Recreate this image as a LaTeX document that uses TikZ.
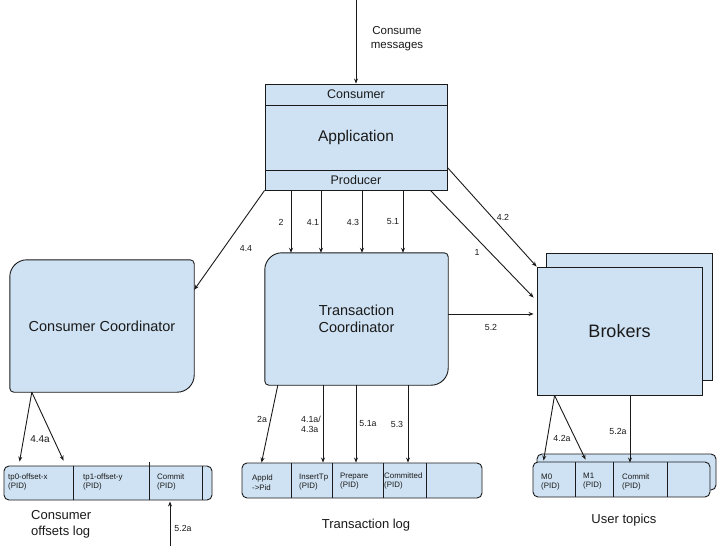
\documentclass[tikz,border=0pt]{standalone}
\usepackage{fontspec}
\setmainfont{Liberation Sans}
\usetikzlibrary{arrows.meta,backgrounds,calc}
\definecolor{boxblue}{HTML}{CFE2F3}
\definecolor{ink}{HTML}{1A1A1A}
\tikzset{
  line/.style={draw=ink,line width=0.9pt},
  conn/.style={line,-{Stealth[length=5pt,width=4pt]}},
  bluebox/.style={line,fill=boxblue},
  holder/.style={draw=none,inner sep=0pt,align=center,text=ink},
  band/.style={bluebox,rectangle,inner sep=0pt,text=ink,font=\fontsize{12.5}{14}\selectfont},
  lbl/.style={inner sep=0pt,text=ink,font=\fontsize{8.8}{10.5}\selectfont,align=left},
  cell/.style={inner sep=0pt,anchor=west,text=ink,font=\fontsize{7.9}{9.8}\selectfont,align=left},
  caption/.style={inner sep=0pt,text=ink,font=\fontsize{13}{16}\selectfont,align=left},
}
% box with big rounded NW/SE corners and small NE/SW corners
\newcommand\mixbox[3]{%
  \path[bluebox]
    ([yshift=-#2]#1.north west)
    .. controls ([yshift=-0.45*#2]#1.north west) and ([xshift=0.45*#2]#1.north west) .. ([xshift=#2]#1.north west)
    -- ([xshift=-#3]#1.north east)
    .. controls ([xshift=-0.45*#3]#1.north east) and ([yshift=-0.45*#3]#1.north east) .. ([yshift=-#3]#1.north east)
    -- ([yshift=#2]#1.south east)
    .. controls ([yshift=0.45*#2]#1.south east) and ([xshift=-0.45*#2]#1.south east) .. ([xshift=-#2]#1.south east)
    -- ([xshift=#3]#1.south west)
    .. controls ([xshift=0.45*#3]#1.south west) and ([yshift=0.45*#3]#1.south west) .. ([yshift=#3]#1.south west)
    -- cycle;}
\begin{document}
\begin{tikzpicture}[x=1pt,y=-1pt]
\useasboundingbox (0,0) rectangle (720,546);

% ---------- Application ----------
\node[band,minimum width=182pt,minimum height=21pt] (appcons) at (356,94.5) {Consumer};
\node[band,minimum width=182pt,minimum height=65pt,font=\fontsize{15.5}{18}\selectfont] (appmain) at (356,137.5) {Application};
\node[band,minimum width=182pt,minimum height=20pt] (appprod) at (356,180) {Producer};
\coordinate (cmsrc) at (356,0);
\draw[conn] (cmsrc) -- (appcons.north);
\node[holder,font=\fontsize{11.5}{13.5}\selectfont] (cmlbl) at (397,38.5) {Consume\\messages};

% ---------- Coordinators ----------
\node[holder,minimum width=183pt,minimum height=132pt,font=\fontsize{14.5}{17}\selectfont] (tc) at (356.5,319) {Transaction\\Coordinator};
\node[holder,minimum width=184pt,minimum height=132pt,font=\fontsize{14.5}{17}\selectfont] (cc) at (102,326) {Consumer Coordinator};
\begin{scope}[on background layer]
\fill[white] (0,0) rectangle (720,546);
\mixbox{tc}{17pt}{4pt}
\mixbox{cc}{17pt}{4pt}
\end{scope}

% ---------- Brokers ----------
\node[bluebox,rectangle,minimum width=166pt,minimum height=127pt,inner sep=0pt] (brkback) at (629,316.5) {};
\node[bluebox,rectangle,minimum width=165pt,minimum height=128pt,inner sep=0pt,text=ink,font=\fontsize{18}{21}\selectfont] (brk) at (619.5,331) {Brokers};

% ---------- Producer -> TC ----------
\draw[conn] ([xshift=-65pt]appprod.south) -- ([xshift=-65.5pt]tc.north);
\draw[conn] ([xshift=-35pt]appprod.south) -- ([xshift=-35.5pt]tc.north);
\draw[conn] ([xshift=6pt]appprod.south) -- ([xshift=5.5pt]tc.north);
\draw[conn] ([xshift=47pt]appprod.south) -- ([xshift=46.5pt]tc.north);
\node[lbl] (l2) at (281,222) {2};
\node[lbl] (l41) at (313,222) {4.1};
\node[lbl] (l43) at (353,222) {4.3};
\node[lbl] (l51) at (393,222) {5.1};

% 4.4 to consumer coordinator
\draw[conn] (appprod.south west) -- ([yshift=-30pt]cc.north east);
\node[lbl] (l44) at (246,248) {4.4};
% 4.2 and 1 to brokers
\draw[conn] ([yshift=2pt]appprod.north east) -- (brk.north west);
\node[lbl] (l42) at (503,217) {4.2};
\draw[conn] ([xshift=-17pt]appprod.south east) -- ([xshift=-3pt,yshift=-31pt]brk.north west);
\node[lbl] (l1) at (477,252) {1};
% 5.2 TC -> brokers
\draw[conn] (tc.east |- 0,314) -- ([xshift=-3pt]brk.west |- 0,314);
\node[lbl] (l52) at (491,327) {5.2};

% ---------- Consumer offsets log ----------
\node[bluebox,rectangle,rounded corners=5pt,minimum width=208pt,minimum height=34pt,inner sep=0pt] (olog) at (108,483) {};
\draw[line] (73,466) -- (73,500);
\draw[line] (149,462) -- (149,500);
\draw[line] (202,466) -- (202,500);
\node[cell] (o1) at (8,482) {tp0-offset-x\\(PID)};
\node[cell] (o2) at (83,482) {tp1-offset-y\\(PID)};
\node[cell] (o3) at (157,482) {Commit\\(PID)};
\draw[conn] ([xshift=22pt]cc.south west) -- ([xshift=16pt,yshift=4pt]olog.north west);
\draw[conn] ([xshift=22pt]cc.south west) -- ([xshift=60pt,yshift=5pt]olog.north west);
\node[lbl,font=\fontsize{10}{12}\selectfont] (l44a) at (40,439) {4.4a};
\coordinate (src52a) at (170,546);
\draw[conn] (src52a) -- (170,501.5);
\node[lbl] (l52a) at (183,528) {5.2a};
\node[caption,anchor=west] (ocap) at (31,524) {Consumer\\offsets log};

% ---------- Transaction log ----------
\node[bluebox,rectangle,rounded corners=5pt,minimum width=240pt,minimum height=35pt,inner sep=0pt] (tlog) at (362,480.5) {};
\foreach \xx in {291,332,383,426} \draw[line] (\xx,463) -- (\xx,498);
\node[cell] (t1) at (252,482.5) {AppId\\->Pid};
\node[cell] (t2) at (299,482) {InsertTp\\(PID)};
\node[cell] (t3) at (340,481) {Prepare\\(PID)};
\node[cell] (t4) at (384,481) {Committed\\(PID)};
\draw[conn] ([xshift=13pt]tc.south west) -- ([xshift=20pt]tlog.north west);
\draw[conn] ([xshift=-33.5pt]tc.south) -- ([xshift=-39pt]tlog.north);
\draw[conn] ([xshift=-0.5pt]tc.south) -- ([xshift=-6pt]tlog.north);
\draw[conn] ([xshift=51.5pt]tc.south) -- ([xshift=46pt]tlog.north);
\node[lbl] (l2a) at (262,419) {2a};
\node[lbl] (l41a) at (311,424.5) {4.1a/\\4.3a};
\node[lbl] (l51a) at (368,424) {5.1a};
\node[lbl] (l53) at (397,424) {5.3};
\node[caption] (tcap) at (366,525) {Transaction log};

% ---------- User topics ----------
\node[bluebox,rectangle,rounded corners=5pt,minimum width=179pt,minimum height=36pt,inner sep=0pt] (uback) at (626.5,472) {};
\node[bluebox,rectangle,rounded corners=5pt,minimum width=177pt,minimum height=35pt,inner sep=0pt] (ulog) at (621.5,479.5) {};
\foreach \xx in {575,613,667} \draw[line] (\xx,462) -- (\xx,497);
\node[cell] (u1) at (541,482) {M0\\(PID)};
\node[cell] (u2) at (583,481) {M1\\(PID)};
\node[cell] (u3) at (622,482) {Commit\\(PID)};
\draw[conn] ([xshift=18pt]brk.south west) -- ([xshift=11pt,yshift=1pt]ulog.north west);
\draw[conn] ([xshift=18pt]brk.south west) -- ([xshift=53pt,yshift=2pt]ulog.north west);
\draw[conn] ([xshift=10.5pt]brk.south) -- ([xshift=8.5pt,yshift=-1pt]ulog.north);
\node[lbl] (l42a) at (562,438) {4.2a};
\node[lbl] (l52a2) at (618,431) {5.2a};
\node[caption] (ucap) at (624,520) {User topics};
\end{tikzpicture}
\end{document}
